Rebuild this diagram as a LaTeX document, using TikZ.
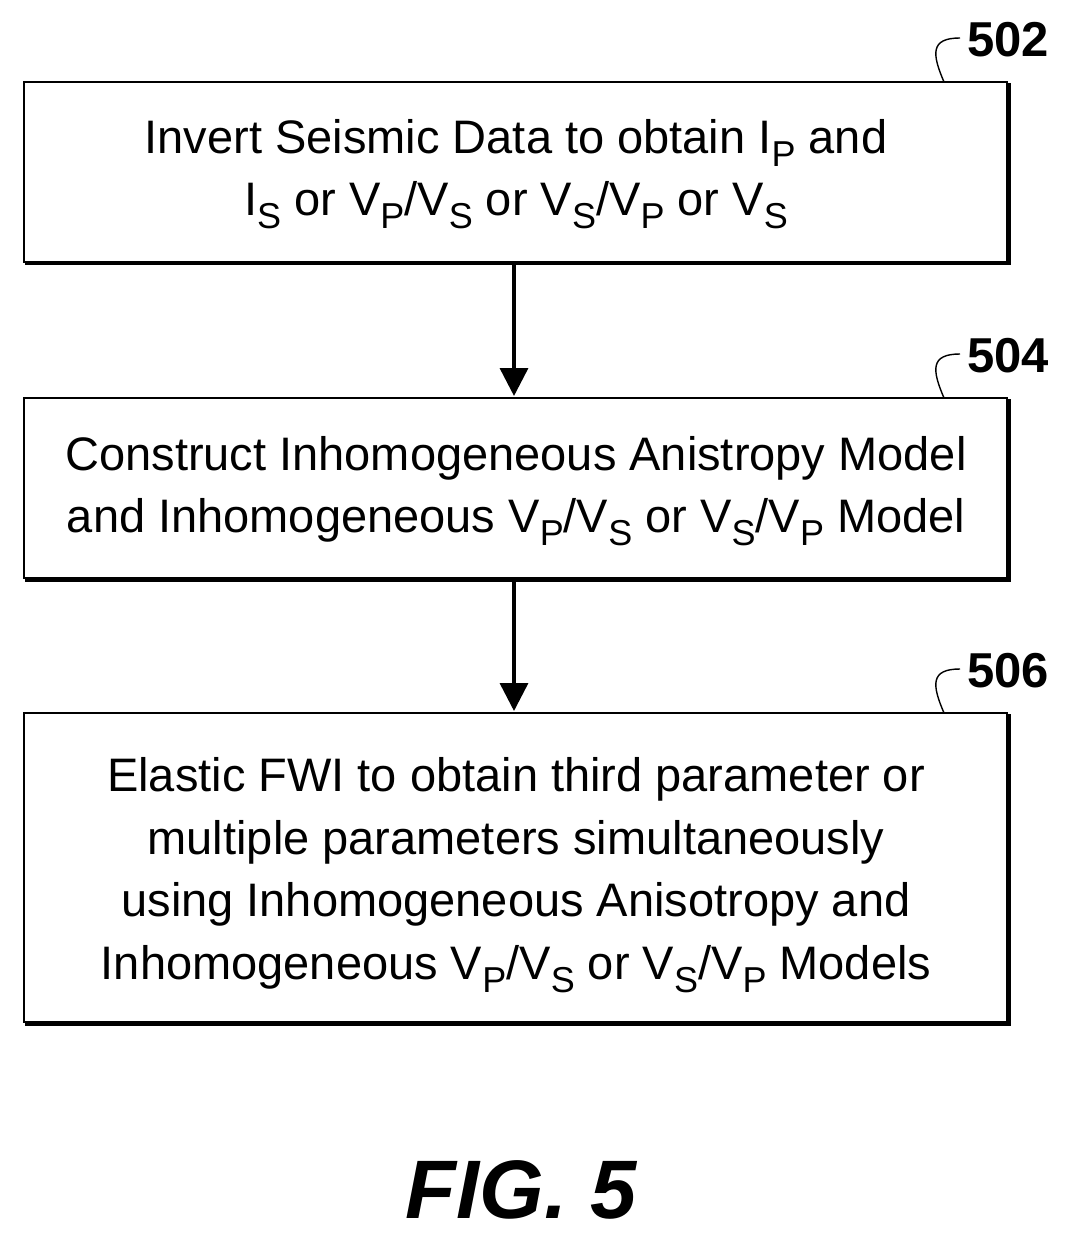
\documentclass[tikz,border=0pt]{standalone}
\usepackage{fontspec}
\setmainfont{Liberation Sans}
\usetikzlibrary{arrows.meta}
\newcommand{\lo}[1]{\raisebox{-0.28em}{\fontsize{36}{36}\selectfont #1}}
\begin{document}
\begin{tikzpicture}[x=1pt,y=-1pt,
 box/.style={draw,line width=1.6pt},
 txt/.style={align=center,font=\fontsize{47}{62.5}\selectfont,inner sep=0},
 lab/.style={font=\fontsize{49}{49}\selectfont\bfseries,anchor=west,inner sep=0},
 arr/.style={line width=3.5pt,-{Triangle[length=28pt,width=28pt]}}]
\useasboundingbox (0,0) rectangle (1070,1238);
\foreach \tp/\bt in {82/262,398/578,713/1022}{
  \draw[box] (24,\tp) rectangle (1007,\bt);
  \draw[line width=3pt] (1009,\tp+1) -- (1009,\bt+2) -- (25,\bt+2);
}
\coordinate (abot) at (514,265);
\coordinate (btop) at (514,396);
\coordinate (bbot) at (514,581);
\coordinate (ctop) at (514,711);
\node[txt] (t1) at (516,174) {Invert Seismic Data to obtain I\lo{P} and\\I\lo{S} or V\lo{P}/V\lo{S} or V\lo{S}/V\lo{P} or V\lo{S}};
\node[txt] (t2) at (516,491) {Construct Inhomogeneous Anistropy Model\\and Inhomogeneous V\lo{P}/V\lo{S} or V\lo{S}/V\lo{P} Model};
\node[txt] (t3) at (516,875) {Elastic FWI to obtain third parameter or\\multiple parameters simultaneously\\using Inhomogeneous Anisotropy and\\Inhomogeneous V\lo{P}/V\lo{S} or V\lo{S}/V\lo{P} Models};
\draw[arr] (abot) -- (btop);
\draw[arr] (bbot) -- (ctop);
\foreach \yy/\l in {82/502,398/504,713/506}{
  \node[lab] at (967,\yy-42) {\l};
  \draw[line width=1.4pt] (944,\yy) .. controls (932,\yy-28) and (930,\yy-44) .. (960,\yy-44);
}
\node[font=\fontsize{83}{83}\selectfont\bfseries\itshape,inner sep=0] (fig) at (521,1190) {FIG. 5};
\end{tikzpicture}
\end{document}
